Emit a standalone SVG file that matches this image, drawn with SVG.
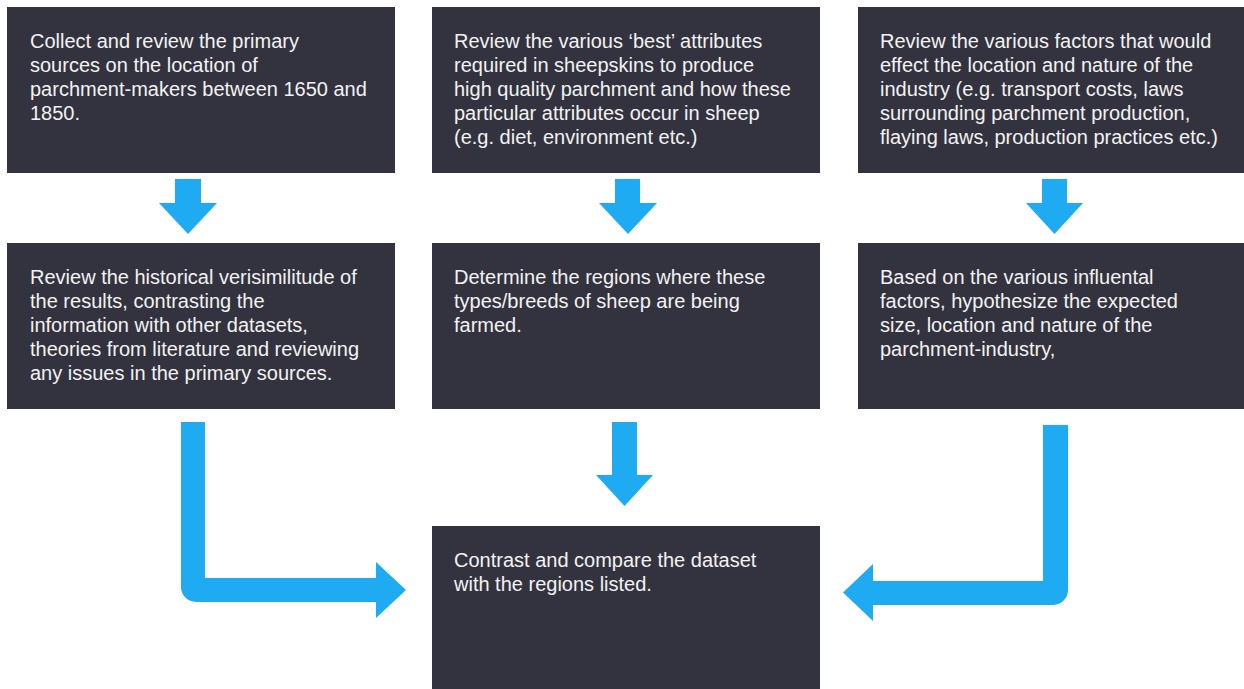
<svg xmlns="http://www.w3.org/2000/svg" width="1244" height="689" viewBox="0 0 1244 689">
<style>
.box{fill:#33323f;}
.t{font-family:"Liberation Sans",Arial,sans-serif;font-size:20px;fill:#f2f2f2;}
.arr{fill:#1eabf1;}
</style>
<rect width="1244" height="689" fill="#ffffff"/>
<g id="n1"><rect class="box" x="7" y="7" width="388" height="166"/>
<text class="t" x="30" y="48"><tspan x="30">Collect and review the primary</tspan><tspan x="30" dy="24">sources on the location of</tspan><tspan x="30" dy="24">parchment-makers between 1650 and</tspan><tspan x="30" dy="24">1850.</tspan></text></g>
<g id="n2"><rect class="box" x="432" y="7" width="388" height="166"/>
<text class="t" x="454" y="48"><tspan x="454">Review the various ‘best’ attributes</tspan><tspan x="454" dy="24">required in sheepskins to produce</tspan><tspan x="454" dy="24">high quality parchment and how these</tspan><tspan x="454" dy="24">particular attributes occur in sheep</tspan><tspan x="454" dy="24">(e.g. diet, environment etc.)</tspan></text></g>
<g id="n3"><rect class="box" x="858" y="7" width="388" height="166"/>
<text class="t" x="880" y="48"><tspan x="880">Review the various factors that would</tspan><tspan x="880" dy="24">effect the location and nature of the</tspan><tspan x="880" dy="24">industry (e.g. transport costs, laws</tspan><tspan x="880" dy="24">surrounding parchment production,</tspan><tspan x="880" dy="24">flaying laws, production practices etc.)</tspan></text></g>
<g id="n4"><rect class="box" x="7" y="243" width="388" height="166"/>
<text class="t" x="30" y="284"><tspan x="30">Review the historical verisimilitude of</tspan><tspan x="30" dy="24">the results, contrasting the</tspan><tspan x="30" dy="24">information with other datasets,</tspan><tspan x="30" dy="24">theories from literature and reviewing</tspan><tspan x="30" dy="24">any issues in the primary sources.</tspan></text></g>
<g id="n5"><rect class="box" x="432" y="243" width="388" height="166"/>
<text class="t" x="454" y="284"><tspan x="454">Determine the regions where these</tspan><tspan x="454" dy="24">types/breeds of sheep are being</tspan><tspan x="454" dy="24">farmed.</tspan></text></g>
<g id="n6"><rect class="box" x="858" y="243" width="388" height="166"/>
<text class="t" x="880" y="284"><tspan x="880">Based on the various influental</tspan><tspan x="880" dy="24">factors, hypothesize the expected</tspan><tspan x="880" dy="24">size, location and nature of the</tspan><tspan x="880" dy="24">parchment-industry,</tspan></text></g>
<g id="n7"><rect class="box" x="432" y="526" width="388" height="170"/>
<text class="t" x="454" y="567"><tspan x="454">Contrast and compare the dataset</tspan><tspan x="454" dy="24">with the regions listed.</tspan></text></g>
<g id="connectors">
<path class="arr" d="M175,179 H201 V203 H217 L188,234 L159,203 H175 Z"/>
<path class="arr" d="M615,179 H640 V203 H657 L628,234 L599,203 H615 Z"/>
<path class="arr" d="M1042,179 H1067 V203 H1083 L1054.5,234 L1026,203 H1042 Z"/>
<path class="arr" d="M612,422 H637 V475 H653 L624.5,506 L596,475 H612 Z"/>
<path class="arr" d="M181,422 H205 V578 H376 V562 L406,590 L376,618 V602 H196 A15,15 0 0 1 181,587 Z"/>
<path class="arr" d="M1043,425 H1068 V590 A15,15 0 0 1 1053,605 H873 V621 L843,592.5 L873,564 V581 H1043 Z"/>
</g>
</svg>
